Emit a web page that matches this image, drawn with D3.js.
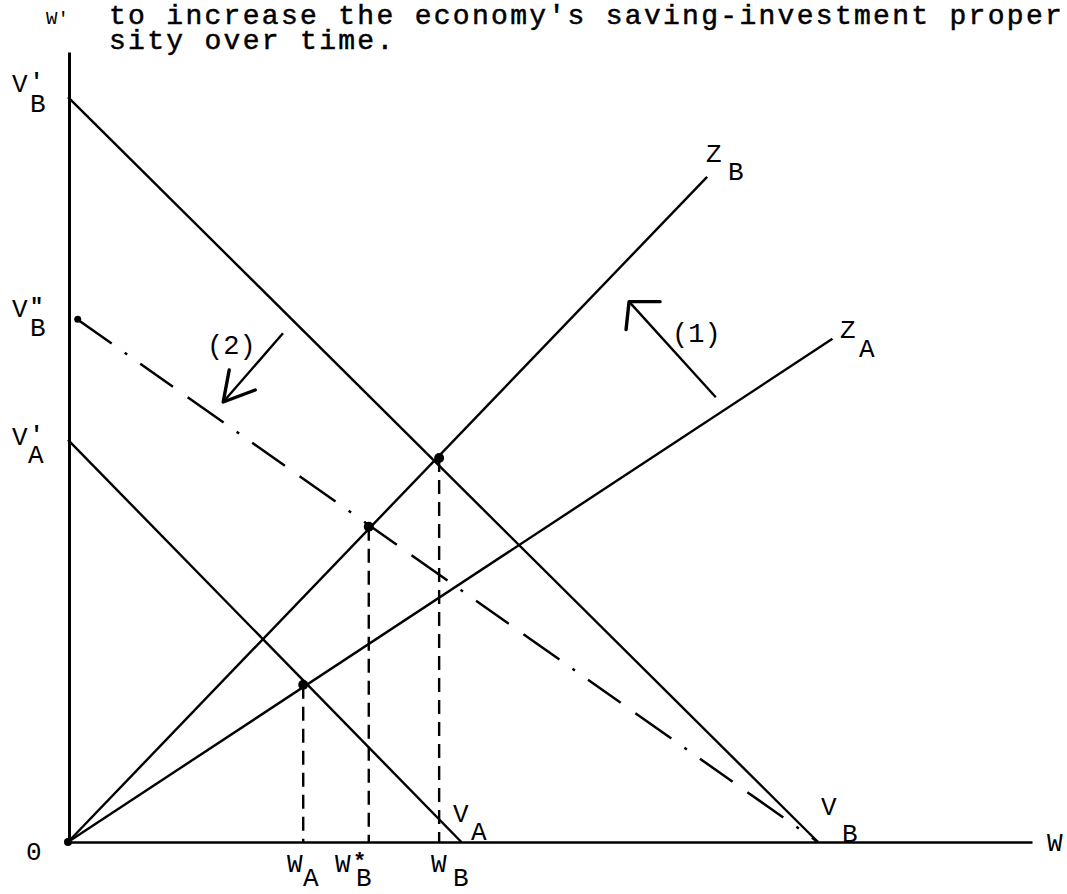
<!DOCTYPE html>
<html>
<head>
<meta charset="utf-8">
<script src="https://cdn.jsdelivr.net/npm/d3@7"></script>
<style>
  body { margin: 0; background: #fff; }
  svg text { font-family: "Liberation Mono", "DejaVu Sans Mono", monospace; fill: #000; }
</style>
</head>
<body>
<div id="chart"></div>
<script>
// caption above the diagram
const captionLines = ["to increase the economy's saving-investment proper", "sity over time."];

// solid schedules, chart units (x: W, y: W')
const solidNames = ["V'B-VB", "V'A-VA", "ZB", "ZA"];
const solidFrom = [[0, 94.3], [0, 50.9], [0, 0], [0, 0]];
const solidTo = [[77.8, 0], [40.8, 0], [66.3, 84.2], [79.3, 63.7]];

// dashed schedule V"B - VB
const dashedFrom = [0.8, 66.3];
const dashedTo = [77.8, 0];

// equilibrium points
const eqNames = ["WA", "W*B", "WB"];
const eqX = [24.4, 31.2, 38.5];
const eqY = [19.9, 39.9, 48.6];

// shift arrows (1) and (2): tail -> tip
const arrowNames = ["(1)", "(2)"];
const arrowTail = [[67.2, 56.3], [22.3, 64.4]];
const arrowTip = [[58.2, 68.4], [16.1, 55.7]];

const width = 1067, height = 894;
const x = d3.scaleLinear().domain([0, 100]).range([68, 1032]);
const y = d3.scaleLinear().domain([0, 100]).range([842, 52]);

const svg = d3.select("#chart").append("svg")
  .attr("width", width)
  .attr("height", height);

// caption
svg.append("text").attr("x", 46).attr("y", 24).style("font-size", "19px").text("W'");
svg.selectAll(".caption")
  .data(captionLines)
  .enter().append("text")
  .attr("class", "caption")
  .attr("x", 109)
  .attr("y", (d, i) => 24 + i * 25)
  .style("font-size", "28px")
  .style("letter-spacing", "2.3px")
  .style("stroke", "#000").style("stroke-width", 0.5)
  .text(d => d);

// axes
svg.append("g")
  .attr("transform", `translate(0,${y(0)})`)
  .call(d3.axisBottom(x).tickValues([]).tickSizeOuter(0))
  .select(".domain").attr("stroke-width", 2.5);
svg.append("g")
  .attr("transform", `translate(${x(0) + 1},0)`)
  .call(d3.axisLeft(y).tickValues([]).tickSizeOuter(0))
  .select(".domain").attr("stroke-width", 3);

// solid lines
svg.selectAll(".solid")
  .data(solidNames)
  .enter().append("line")
  .attr("class", "solid")
  .attr("x1", (d, i) => x(solidFrom[i][0]))
  .attr("y1", (d, i) => y(solidFrom[i][1]))
  .attr("x2", (d, i) => x(solidTo[i][0]))
  .attr("y2", (d, i) => y(solidTo[i][1]))
  .attr("stroke", "#000")
  .attr("stroke-width", 2.4);

// dashed line
svg.append("line")
  .attr("x1", x(dashedFrom[0])).attr("y1", y(dashedFrom[1]))
  .attr("x2", x(dashedTo[0])).attr("y2", y(dashedTo[1]))
  .attr("stroke", "#000")
  .attr("stroke-width", 2.5)
  .attr("stroke-dasharray", "44,16,3,16,40,18");
svg.append("circle").attr("cx", x(dashedFrom[0]) + 2).attr("cy", y(dashedFrom[1]) + 1).attr("r", 3.5);

// vertical drops
svg.selectAll(".drop")
  .data(eqNames)
  .enter().append("line")
  .attr("x1", (d, i) => x(eqX[i]))
  .attr("x2", (d, i) => x(eqX[i]))
  .attr("y1", (d, i) => y(eqY[i]))
  .attr("y2", y(0))
  .attr("stroke", "#000")
  .attr("stroke-width", 2.4)
  .attr("stroke-dasharray", "14,8");

svg.selectAll(".pt")
  .data(eqNames)
  .enter().append("circle")
  .attr("cx", (d, i) => x(eqX[i]))
  .attr("cy", (d, i) => y(eqY[i]))
  .attr("r", 5);
svg.append("circle").attr("cx", x(0)).attr("cy", y(0)).attr("r", 4);

// arrows with open hand-drawn heads
const barbs = [[[31, 0], [-3, 28]], [[6, -32], [32, -12]]];
arrowNames.forEach((name, i) => {
  const tx = x(arrowTip[i][0]), ty = y(arrowTip[i][1]);
  svg.append("line")
    .attr("x1", x(arrowTail[i][0])).attr("y1", y(arrowTail[i][1]))
    .attr("x2", tx).attr("y2", ty)
    .attr("stroke", "#000").attr("stroke-width", 2.4);
  svg.append("path")
    .attr("d", `M${tx + barbs[i][0][0]},${ty + barbs[i][0][1]}L${tx},${ty}L${tx + barbs[i][1][0]},${ty + barbs[i][1][1]}`)
    .attr("fill", "none").attr("stroke", "#000").attr("stroke-width", 3.4)
    .attr("stroke-linejoin", "round").attr("stroke-linecap", "round");
});
svg.append("text").attr("x", 672).attr("y", 342).style("font-size", "27px").text("(1)");
svg.append("text").attr("x", 207).attr("y", 354).style("font-size", "27px").text("(2)");

// labels: main letter, mark, subscript
function label(px, py, main, mark, sub, subDx, subDy) {
  const g = svg.append("g").attr("transform", `translate(${px},${py})`);
  g.append("text").style("font-size", "26px").text(main);
  if (mark) g.append("text").attr("x", 18).attr("y", -4).style("font-size", "22px").style("font-weight", "bold").text(mark);
  if (sub) g.append("text").attr("x", subDx).attr("y", subDy).style("font-size", "26px").text(sub);
}
label(12, 92, "V", "'", "B", 18, 20);
label(12, 317, "V", "\"", "B", 18, 19);
label(12, 445, "V", "'", "A", 16, 18);
label(706, 162, "Z", null, "B", 22, 18);
label(840, 338, "Z", null, "A", 19, 19);
label(453, 822, "V", null, "A", 18, 18);
label(821, 815, "V", null, "B", 21, 27);
label(1047, 851, "W", null, null);
label(26, 860, "0", null, null);
label(287, 872, "W", null, "A", 16, 14);
label(335, 872, "W", "*", "B", 21, 14);
label(431, 872, "W", null, "B", 22, 14);
</script>
</body>
</html>
